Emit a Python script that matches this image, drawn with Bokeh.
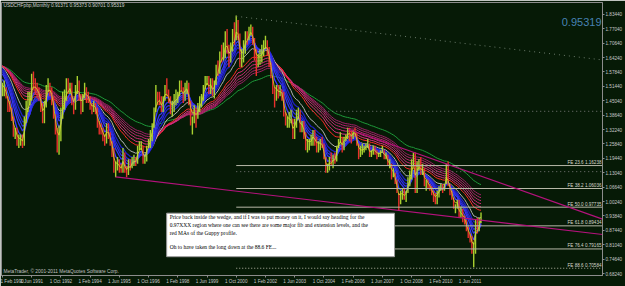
import numpy as np
from bokeh.plotting import figure
from bokeh.models import Range1d, FixedTicker, PrintfTickFormatter, Label
from bokeh.embed import file_html
from bokeh.resources import INLINE
from bokeh.core.properties import value

# ---------------- data ----------------
symbol_title = "USDCHFpbp,Monthly  0.91371 0.95373 0.90701 0.95319"
copyright_text = "MetaTrader, \u00a9 2001-2011 MetaQuotes Software Corp."
last_price = 0.95319

date_tick_months = [0, 16, 32, 48, 64, 80, 96, 112, 128, 144, 160, 176, 192, 208, 224, 240, 256]
date_tick_labels = ["1 Feb 1990", "1 Jun 1991", "1 Oct 1992", "1 Feb 1994", "1 Jun 1995",
                    "1 Oct 1996", "1 Feb 1998", "1 Jun 1999", "1 Oct 2000", "1 Feb 2002",
                    "1 Jun 2003", "1 Oct 2004", "1 Feb 2006", "1 Jun 2007", "1 Oct 2008",
                    "1 Feb 2010", "1 Jun 2011"]
price_ticks = [0.6824, 0.7464, 0.8104, 0.8744, 0.9384, 1.0024, 1.0664, 1.1304, 1.1944,
               1.2584, 1.3224, 1.3864, 1.4504, 1.5144, 1.5784, 1.6424, 1.7064, 1.7704, 1.8344]

# closes Jan 1989 - Jan 1990 (hidden, only warm the averages)
seed_close = [1.60, 1.58, 1.64, 1.68, 1.77, 1.67, 1.62, 1.67, 1.65, 1.62, 1.61, 1.54, 1.50]

# monthly bars Feb 1990 - Dec 2011
close = [
    1.50, 1.50, 1.47, 1.43, 1.41, 1.37, 1.30, 1.30, 1.27, 1.27, 1.28,            # 1990
    1.26, 1.36, 1.42, 1.46, 1.46, 1.55, 1.53, 1.51, 1.49, 1.47, 1.42, 1.36,      # 1991
    1.43, 1.50, 1.53, 1.50, 1.46, 1.38, 1.31, 1.26, 1.28, 1.39, 1.47, 1.47,      # 1992
    1.52, 1.50, 1.52, 1.44, 1.42, 1.50, 1.52, 1.48, 1.41, 1.47, 1.51, 1.47,      # 1993
    1.46, 1.42, 1.41, 1.43, 1.41, 1.34, 1.33, 1.31, 1.29, 1.27, 1.33, 1.31,      # 1994
    1.26, 1.23, 1.14, 1.15, 1.17, 1.15, 1.14, 1.21, 1.14, 1.13, 1.17, 1.15,      # 1995
    1.19, 1.19, 1.18, 1.24, 1.25, 1.25, 1.19, 1.19, 1.25, 1.26, 1.31, 1.34,      # 1996
    1.41, 1.48, 1.47, 1.46, 1.41, 1.46, 1.51, 1.48, 1.45, 1.42, 1.42, 1.46,      # 1997
    1.46, 1.47, 1.52, 1.50, 1.47, 1.51, 1.51, 1.44, 1.37, 1.37, 1.40, 1.38,      # 1998
    1.41, 1.45, 1.46, 1.51, 1.54, 1.55, 1.50, 1.53, 1.48, 1.52, 1.60, 1.59,      # 1999
    1.66, 1.65, 1.66, 1.73, 1.70, 1.63, 1.68, 1.74, 1.72, 1.80, 1.74, 1.62,      # 2000
    1.64, 1.68, 1.74, 1.73, 1.76, 1.77, 1.72, 1.65, 1.62, 1.64, 1.65, 1.66,      # 2001
    1.70, 1.70, 1.68, 1.62, 1.56, 1.49, 1.47, 1.50, 1.48, 1.49, 1.48, 1.39,      # 2002
    1.36, 1.36, 1.36, 1.36, 1.29, 1.35, 1.38, 1.40, 1.32, 1.34, 1.30, 1.24,      # 2003
    1.26, 1.27, 1.27, 1.31, 1.27, 1.25, 1.26, 1.26, 1.25, 1.19, 1.13, 1.14,      # 2004
    1.19, 1.17, 1.20, 1.19, 1.25, 1.28, 1.29, 1.24, 1.29, 1.29, 1.32, 1.31,      # 2005
    1.28, 1.32, 1.31, 1.25, 1.21, 1.22, 1.23, 1.24, 1.25, 1.26, 1.20, 1.22,      # 2006
    1.25, 1.22, 1.21, 1.21, 1.22, 1.23, 1.20, 1.20, 1.16, 1.16, 1.12, 1.13,      # 2007
    1.08, 1.04, 0.99, 1.04, 1.04, 1.02, 1.05, 1.10, 1.12, 1.16, 1.21, 1.07,      # 2008
    1.16, 1.17, 1.14, 1.14, 1.08, 1.09, 1.07, 1.06, 1.04, 1.02, 1.01, 1.04,      # 2009
    1.06, 1.08, 1.05, 1.08, 1.15, 1.08, 1.04, 1.02, 0.98, 0.98, 1.00, 0.93,      # 2010
    0.94, 0.93, 0.92, 0.87, 0.85, 0.84, 0.79, 0.80, 0.91, 0.88, 0.91371, 0.95319,  # 2011
]
high = [
    1.53, 1.54, 1.51, 1.47, 1.45, 1.42, 1.38, 1.33, 1.33, 1.30, 1.30,
    1.30, 1.38, 1.45, 1.49, 1.49, 1.57, 1.58, 1.55, 1.53, 1.51, 1.48, 1.44,
    1.45, 1.52, 1.55, 1.53, 1.51, 1.47, 1.39, 1.33, 1.34, 1.42, 1.49, 1.50,
    1.55, 1.55, 1.53, 1.53, 1.46, 1.52, 1.56, 1.54, 1.48, 1.48, 1.53, 1.51,
    1.49, 1.47, 1.44, 1.45, 1.44, 1.42, 1.36, 1.35, 1.33, 1.30, 1.35, 1.35,
    1.31, 1.27, 1.24, 1.18, 1.20, 1.19, 1.17, 1.24, 1.22, 1.16, 1.19, 1.19,
    1.20, 1.21, 1.20, 1.25, 1.27, 1.27, 1.25, 1.21, 1.25, 1.28, 1.32, 1.35,
    1.42, 1.52, 1.49, 1.49, 1.47, 1.47, 1.52, 1.55, 1.50, 1.47, 1.45, 1.48,
    1.50, 1.49, 1.54, 1.54, 1.51, 1.53, 1.54, 1.53, 1.45, 1.38, 1.43, 1.42,
    1.44, 1.47, 1.48, 1.52, 1.56, 1.56, 1.56, 1.55, 1.55, 1.54, 1.61, 1.63,
    1.67, 1.70, 1.71, 1.76, 1.77, 1.70, 1.71, 1.77, 1.80, 1.83, 1.81, 1.75,
    1.68, 1.72, 1.76, 1.76, 1.78, 1.79, 1.78, 1.73, 1.68, 1.66, 1.68, 1.70,
    1.72, 1.74, 1.72, 1.69, 1.62, 1.56, 1.51, 1.52, 1.52, 1.52, 1.50, 1.49,
    1.40, 1.38, 1.40, 1.41, 1.37, 1.37, 1.41, 1.42, 1.41, 1.36, 1.36, 1.31,
    1.28, 1.28, 1.30, 1.32, 1.32, 1.29, 1.27, 1.28, 1.29, 1.26, 1.20, 1.17,
    1.20, 1.22, 1.21, 1.22, 1.25, 1.28, 1.31, 1.29, 1.29, 1.30, 1.33, 1.33,
    1.32, 1.32, 1.33, 1.31, 1.26, 1.25, 1.26, 1.25, 1.26, 1.28, 1.26, 1.23,
    1.25, 1.25, 1.23, 1.22, 1.23, 1.25, 1.23, 1.22, 1.21, 1.19, 1.17, 1.15,
    1.13, 1.10, 1.04, 1.05, 1.06, 1.06, 1.05, 1.11, 1.14, 1.19, 1.22, 1.22,
    1.18, 1.19, 1.20, 1.17, 1.15, 1.10, 1.10, 1.08, 1.07, 1.05, 1.04, 1.05,
    1.07, 1.08, 1.08, 1.08, 1.17, 1.18, 1.08, 1.05, 1.02, 0.99, 1.01, 1.01,
    0.98, 0.97, 0.94, 0.92, 0.89, 0.86, 0.85, 0.82, 0.92, 0.93, 0.93, 0.95373,
]
low = [
    1.47, 1.47, 1.46, 1.40, 1.40, 1.36, 1.29, 1.28, 1.25, 1.24, 1.25,
    1.24, 1.25, 1.35, 1.40, 1.43, 1.45, 1.50, 1.48, 1.46, 1.45, 1.40, 1.35,
    1.35, 1.42, 1.49, 1.47, 1.43, 1.37, 1.30, 1.22, 1.21, 1.27, 1.37, 1.41,
    1.45, 1.48, 1.48, 1.43, 1.39, 1.41, 1.48, 1.45, 1.39, 1.40, 1.46, 1.44,
    1.44, 1.41, 1.39, 1.40, 1.39, 1.33, 1.30, 1.30, 1.27, 1.25, 1.26, 1.28,
    1.25, 1.20, 1.13, 1.11, 1.14, 1.13, 1.13, 1.13, 1.13, 1.11, 1.12, 1.14,
    1.15, 1.16, 1.16, 1.17, 1.23, 1.23, 1.17, 1.17, 1.18, 1.24, 1.24, 1.27,
    1.33, 1.40, 1.43, 1.43, 1.40, 1.40, 1.45, 1.47, 1.44, 1.39, 1.38, 1.40,
    1.43, 1.44, 1.47, 1.49, 1.44, 1.45, 1.48, 1.43, 1.34, 1.30, 1.35, 1.33,
    1.37, 1.40, 1.42, 1.45, 1.50, 1.52, 1.48, 1.48, 1.47, 1.46, 1.52, 1.56,
    1.57, 1.62, 1.63, 1.64, 1.66, 1.60, 1.62, 1.67, 1.70, 1.72, 1.72, 1.60,
    1.60, 1.62, 1.66, 1.70, 1.72, 1.74, 1.70, 1.63, 1.56, 1.60, 1.61, 1.62,
    1.65, 1.68, 1.65, 1.60, 1.55, 1.48, 1.42, 1.45, 1.46, 1.47, 1.45, 1.38,
    1.34, 1.33, 1.33, 1.35, 1.28, 1.28, 1.33, 1.37, 1.31, 1.31, 1.28, 1.23,
    1.22, 1.23, 1.25, 1.25, 1.25, 1.22, 1.22, 1.23, 1.24, 1.19, 1.13, 1.13,
    1.14, 1.16, 1.15, 1.17, 1.18, 1.24, 1.26, 1.22, 1.23, 1.27, 1.28, 1.27,
    1.26, 1.28, 1.29, 1.25, 1.19, 1.20, 1.21, 1.22, 1.23, 1.24, 1.20, 1.20,
    1.21, 1.21, 1.19, 1.20, 1.20, 1.22, 1.19, 1.19, 1.16, 1.15, 1.10, 1.11,
    1.08, 1.04, 0.96, 0.99, 1.01, 1.01, 1.00, 1.04, 1.07, 1.10, 1.16, 1.04,
    1.04, 1.14, 1.12, 1.12, 1.07, 1.05, 1.06, 1.05, 1.03, 1.00, 0.99, 0.99,
    1.02, 1.05, 1.04, 1.05, 1.08, 1.07, 1.03, 1.01, 0.97, 0.95, 0.97, 0.93,
    0.93, 0.91, 0.90, 0.87, 0.84, 0.82, 0.77, 0.71, 0.77, 0.86, 0.87, 0.90701,
]

# Fibonacci expansion levels
fib_levels = [23.6, 38.2, 50.0, 61.8, 76.4, 88.6]
fib_prices = [1.16238, 1.06036, 0.97735, 0.89434, 0.79165, 0.70584]

# wedge trend lines (month index, price)
lower_trend_month = [62, 328.5]
lower_trend_price = [1.112, 0.856]
upper_trend_month = [189, 328.5]
upper_trend_price = [1.325, 0.924]

# dotted helper levels / fan
dotted_levels = [1.4036, 1.1353]
fan_month = [128, 328.5]
fan_price = [1.826, 1.632]

# Guppy multiple moving averages
short_periods = [5, 8, 10, 12, 15]
short_colors = ["#3c3cff", "#3434f0", "#2c2ce0", "#2424d0", "#1e1ec0"]
long_periods = [30, 35, 40, 45, 50, 55]
long_colors = ["#ff2a2a", "#e03080", "#d02a7a", "#c02674", "#b0226e", "#a01e68"]

note_lines = [
    "Price back inside the wedge, and if I was to put money on it, I would say heading for the",
    "0.97XXX region where one can see there are some major fib and extension levels, and the",
    "red MAs of the Guppy profile.",
    "",
    "Oh to have taken the long down at the 88.6 FE...",
]

# ---------------- helpers (layout only) ----------------
X0, X1 = -0.5, 328.5
Y0, Y1 = 0.6736, 1.8873
FL, FR = 1.0, 605.0   # frame left/right pixel
FT, FB = 2.0, 278.0   # frame top/bottom pixel


def fx(px):
    return X0 + (px - FL) * (X1 - X0) / (FR - FL)


def fy(py):
    return Y1 - (py - FT) * (Y1 - Y0) / (FB - FT)


def ema(values, n):
    a = 2.0 / (n + 1)
    out = np.empty(len(values))
    out[0] = values[0]
    for i in range(1, len(values)):
        out[i] = a * values[i] + (1 - a) * out[i - 1]
    return out


close_a = np.array(close)
high_a = np.array(high)
low_a = np.array(low)
months = np.arange(len(close_a))
full = np.concatenate([np.array(seed_close), close_a])
ns = len(seed_close)

BG = "#061a06"
p = figure(width=625, height=286, output_backend="svg", toolbar_location=None,
           x_range=Range1d(X0, X1), y_range=Range1d(Y0, Y1), y_axis_location="right",
           min_border_left=1, min_border_top=2, min_border_right=0, min_border_bottom=0,
           background_fill_color=BG, border_fill_color=BG, outline_line_color="#8c8c8c")
p.grid.visible = False

xa = p.xaxis[0]
xa.ticker = FixedTicker(ticks=date_tick_months)
xa.major_label_overrides = {m: l for m, l in zip(date_tick_months, date_tick_labels)}
ya = p.yaxis[0]
ya.ticker = FixedTicker(ticks=price_ticks)
ya.formatter = PrintfTickFormatter(format="%.5f")
for ax in (xa, ya):
    ax.axis_line_color = "#8c8c8c"
    ax.major_tick_line_color = "#8c8c8c"
    ax.major_tick_out = 2
    ax.major_tick_in = 0
    ax.minor_tick_out = 0
    ax.minor_tick_in = 0
    ax.major_label_text_color = "#c8c8c8"
    ax.major_label_text_font = "Liberation Sans"
    ax.major_label_text_font_size = "4.6px"
    ax.major_label_standoff = 1
xa.major_label_text_align = "left"

# long-term GMMA
p.line(months, ema(full, 75)[ns:], line_color="#1f9a3a", line_width=1)
for n, c in zip(long_periods[::-1], long_colors[::-1]):
    p.line(months, ema(full, n)[ns:], line_color=c, line_width=1)
# medium grey average
p.line(months, ema(full, 20)[ns:], line_color="#b4b4b4", line_width=1)
# short-term GMMA
for n, c in zip(short_periods[::-1], short_colors[::-1]):
    p.line(months, ema(full, n)[ns:], line_color=c, line_width=1.3)

# price bars
prev = np.concatenate([[seed_close[-1]], close_a[:-1]])
bar_colors = ["#a8d030" if c >= o else "#e8302c" for c, o in zip(close_a, prev)]
p.segment(x0=months, y0=low_a, x1=months, y1=high_a, line_color=bar_colors, line_width=1.4)
p.line(months, ema(full, 3)[ns:], line_color="#d8e030", line_width=0.8)

# fib expansion lines
fib_start = int(np.argmax(high_a))
for lvl, pr in zip(fib_levels, fib_prices):
    dash = "1 2" if lvl == 88.6 else "solid"
    p.segment(x0=[fib_start], y0=[pr], x1=[X1], y1=[pr], line_color="#b8b8a8",
              line_width=1, line_dash=dash)
p.text(x=[fx(604)] * len(fib_prices), y=fib_prices,
       text=[f"FE {l:.1f} {v:.5f}" for l, v in zip(fib_levels, fib_prices)],
       text_align="right", text_baseline="bottom", y_offset=-0.5,
       text_font=value("Liberation Sans"), text_font_size="4.6px", text_color="#d8d8cc")

# dotted levels and fan
for lv in dotted_levels:
    p.segment(x0=[fib_start], y0=[lv], x1=[X1], y1=[lv], line_color="#7a7a7a",
              line_width=1, line_dash="1 3")
p.line(fan_month, fan_price, line_color="#6a7a6a", line_width=1, line_dash="1 4")

# wedge
p.line(lower_trend_month, lower_trend_price, line_color="#b4127c", line_width=1.2)
p.line(upper_trend_month, upper_trend_price, line_color="#b4127c", line_width=1.2)

# note box
p.quad(left=[fx(167)], right=[fx(396)], top=[fy(215)], bottom=[fy(259)],
       fill_color="white", line_color="#9a9a9a", line_width=1)
note_y = [fy(219), fy(227), fy(235), fy(242), fy(249)]
p.text(x=[fx(170)] * len(note_lines), y=note_y, text=note_lines,
       text_align="left", text_baseline="middle",
       text_font=value("Liberation Serif"), text_font_size="5.5px", text_color="black")

# header / footer texts
p.text(x=[fx(3)], y=[fy(5)], text=[symbol_title], text_align="left", text_baseline="middle",
       text_font=value("Liberation Sans"), text_font_size="4.8px", text_color="#d0d0d0")
p.text(x=[fx(3)], y=[fy(274)], text=[copyright_text], text_align="left", text_baseline="middle",
       text_font=value("Liberation Sans"), text_font_size="4.8px", text_color="#c0c0c0")
p.text(x=[fx(604)], y=[fy(22)], text=[f"{last_price:.5f}"], text_align="right",
       text_baseline="middle", text_font=value("Liberation Sans"), text_font_size="11px",
       text_color="#4682b4")

# current price marker on the price scale
p.add_layout(Label(x=X1, y=last_price, x_offset=2, text=f"{last_price:.5f}",
                   text_font="Liberation Sans", text_font_size="4.6px", text_color="black",
                   text_baseline="middle", background_fill_color="white"))

open("out.html", "w").write(file_html(p, INLINE))
